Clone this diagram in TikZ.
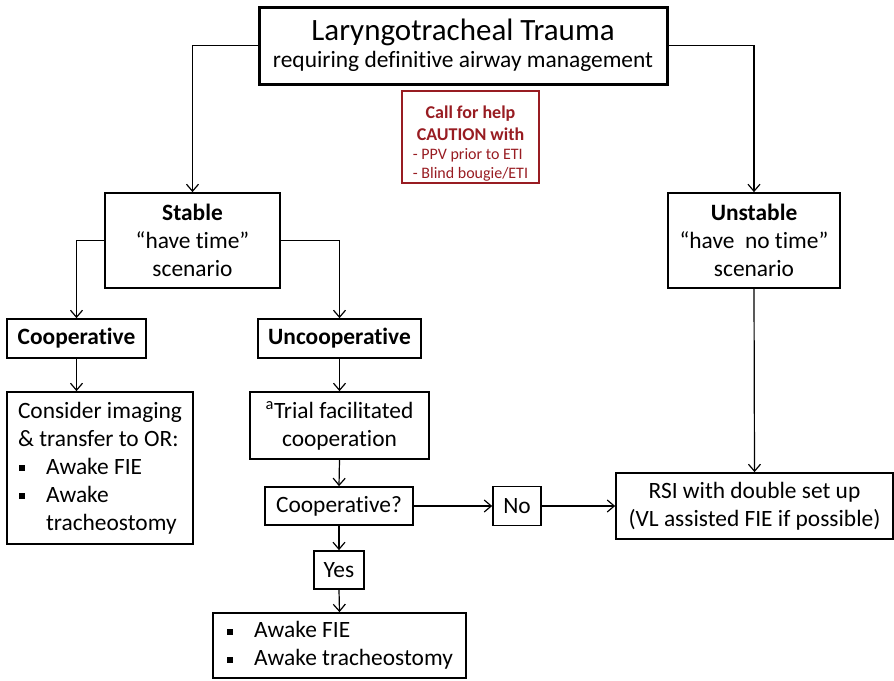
\documentclass[tikz,border=0pt]{standalone}
\usepackage{fontspec}
\setmainfont{Carlito}[Ligatures={NoCommon,NoContextual},RawFeature={-liga;-dlig;-clig;-calt}]
\usetikzlibrary{arrows.meta}
\definecolor{redbrown}{RGB}{152,28,34}
\newcommand\bsq{\makebox[28pt][l]{\hspace{1pt}\rule[3pt]{6pt}{6pt}}}
\begin{document}
\begin{tikzpicture}[x=1pt,y=-1pt,
  box/.style={draw,line width=1.7pt,rectangle,inner sep=0pt,align=center,
    font=\fontsize{23.4}{28}\selectfont},
  lbox/.style={box,align=left},
  conn/.style={line width=1.2pt,-{Straight Barb[length=7pt,width=12pt,line width=1.2pt]}}]
\useasboundingbox (0,0) rectangle (894,680);
\node[box,line width=3pt,minimum width=408pt,minimum height=77pt] (title) at (463,45.5)
  {{\fontsize{31}{34}\selectfont Laryngotracheal Trauma}\\[-1pt]requiring definitive airway management};
\node[draw=redbrown,line width=1.5pt,inner sep=0pt,minimum width=137pt,minimum height=92pt] (help) at (470.5,137) {};
\node[text=redbrown,inner sep=0pt,align=center,font=\fontsize{18}{22}\selectfont] (helptext)
  at ([yshift=-8pt]help.center)
  {\textbf{Call for help}\\\textbf{CAUTION with}\\[-3pt]
   {\fontsize{16}{19.5}\selectfont\begin{tabular}[t]{@{}l@{}}- PPV prior to ETI\\- Blind bougie/ETI\end{tabular}}};
\node[box,minimum width=175pt,minimum height=95pt] (stable) at (192.5,240.5)
  {\textbf{Stable}\\“have time”\\scenario};
\node[box,minimum width=172pt,minimum height=95pt] (unstable) at (754,240.5)
  {\textbf{Unstable}\\“have\ \ no time”\\scenario};
\node[box,minimum width=139pt,minimum height=39pt] (coop) at (76.5,338.5) {\textbf{Cooperative}};
\node[box,minimum width=163pt,minimum height=39pt] (uncoop) at (339.5,338.5) {\textbf{Uncooperative}};
\node[lbox,minimum width=186pt,minimum height=152pt] (consider) at (100,468)
  {Consider imaging\\\& transfer to OR:\\\bsq Awake FIE\\\bsq Awake\\\hspace{28pt}tracheostomy};
\node[box,minimum width=179pt,minimum height=67pt] (trial) at (339.5,425.5)
  {\textsuperscript{a}Trial facilitated\\cooperation};
\node[box,minimum width=148pt,minimum height=38pt] (coopq) at (339,506) {Cooperative?};
\node[box,minimum width=50pt,minimum height=38pt] (yes) at (339,570) {Yes};
\node[lbox,minimum width=253pt,minimum height=65pt] (awake) at (339.5,645.5)
  {\bsq Awake FIE\\\bsq Awake tracheostomy};
\node[box,minimum width=48pt,minimum height=39pt] (no) at (517,506) {No};
\node[box,minimum width=277pt,minimum height=66pt] (rsi) at (754.5,506)
  {RSI with double set up\\(VL assisted FIE if possible)};
\draw[conn] (title.west) -| (stable.north);
\draw[conn] (title.east) -| (unstable.north);
\draw[conn] (stable.west) -| (coop.north);
\draw[conn] (stable.east) -| (uncoop.north);
\draw[conn] (coop.south) -- (coop.south |- consider.north);
\draw[conn] (uncoop.south) -- (trial.north);
\draw[conn] (trial.south) -- (coopq.north);
\draw[conn] (coopq.south) -- (yes.north);
\draw[conn] (yes.south) -- (awake.north);
\draw[conn] (coopq.east) -- (no.west);
\draw[conn] (no.east) -- (rsi.west);
\draw[conn] (unstable.south) -- (rsi.north);
\end{tikzpicture}
\end{document}
